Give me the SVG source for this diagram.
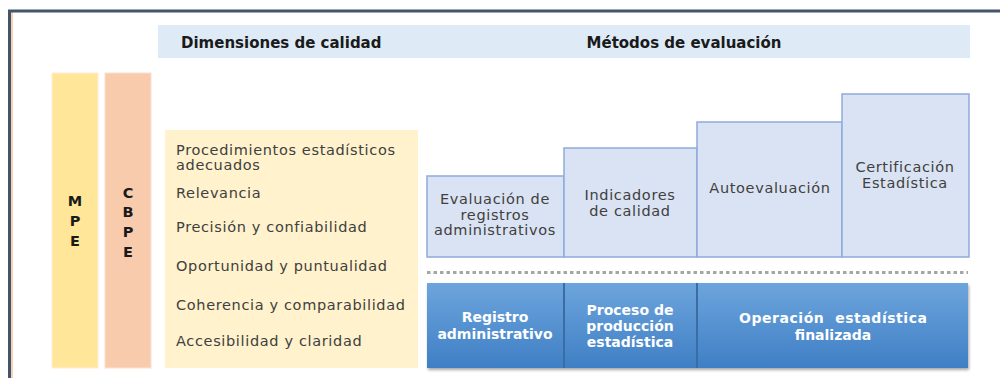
<svg xmlns="http://www.w3.org/2000/svg" width="1000" height="378" viewBox="0 0 1000 378">
<defs>
<style>
.t{font-family:"DejaVu Sans","Liberation Sans",sans-serif;font-size:14.5px;letter-spacing:0.65px;fill:#404040}
.c{text-anchor:middle}
.hb{font-family:"DejaVu Sans","Liberation Sans",sans-serif;font-size:15px;font-weight:bold;fill:#1a1a1a}
.lb{font-family:"DejaVu Sans","Liberation Sans",sans-serif;font-size:14.5px;font-weight:bold;fill:#1a1a1a;text-anchor:middle}
.wb{font-family:"DejaVu Sans","Liberation Sans",sans-serif;font-size:14px;font-weight:bold;fill:#ffffff;text-anchor:middle}
.step{fill:#DAE3F3;stroke:#8FAADC;stroke-width:1.5}
</style>
<linearGradient id="blue" x1="0" y1="0" x2="0" y2="1">
<stop offset="0" stop-color="#6DA5DD"/>
<stop offset="1" stop-color="#3F7FC5"/>
</linearGradient>
<filter id="sh" x="-5%" y="-10%" width="110%" height="125%">
<feDropShadow dx="1" dy="2" stdDeviation="1.5" flood-color="#000" flood-opacity="0.35"/>
</filter>
</defs>
<rect width="1000" height="378" fill="#ffffff"/>
<g id="frame">
<line x1="12" y1="12" x2="12" y2="378" stroke="#F4B183" stroke-width="1.2"/>
<line x1="8" y1="11" x2="1000" y2="11" stroke="#44546A" stroke-width="3"/>
<line x1="9.5" y1="10" x2="9.5" y2="378" stroke="#44546A" stroke-width="3"/>
</g>
<g id="header">
<rect x="158" y="25" width="812" height="33" fill="#DEEBF7"/>
<text class="hb" x="181" y="48">Dimensiones de calidad</text>
<text class="hb" x="684" y="48" text-anchor="middle">Métodos de evaluación</text>
</g>
<g id="mpe">
<rect x="52" y="73" width="46" height="295" fill="#FFE699" stroke="#FFEBD9" stroke-width="1"/>
<text class="lb" x="75" y="206">M</text>
<text class="lb" x="75" y="226">P</text>
<text class="lb" x="75" y="246">E</text>
</g>
<g id="cbpe">
<rect x="105" y="73" width="46" height="295" fill="#F8CBAD" stroke="#FBE0D0" stroke-width="1"/>
<text class="lb" x="128" y="198">C</text>
<text class="lb" x="128" y="217">B</text>
<text class="lb" x="128" y="237">P</text>
<text class="lb" x="128" y="257">E</text>
</g>
<g id="dimensiones">
<rect x="165" y="130" width="253" height="238" fill="#FFF2CC"/>
<text class="t" x="176" y="155">Procedimientos estadísticos</text>
<text class="t" x="176" y="170">adecuados</text>
<text class="t" x="176" y="198">Relevancia</text>
<text class="t" x="176" y="232">Precisión y confiabilidad</text>
<text class="t" x="176" y="271">Oportunidad y puntualidad</text>
<text class="t" x="176" y="310">Coherencia y comparabilidad</text>
<text class="t" x="176" y="346">Accesibilidad y claridad</text>
</g>
<g id="metodo1">
<rect class="step" x="427" y="176" width="137" height="81"/>
<text class="t c" x="495" y="204">Evaluación de</text>
<text class="t c" x="495" y="220">registros</text>
<text class="t c" x="495" y="235">administrativos</text>
</g>
<g id="metodo2">
<rect class="step" x="564" y="148" width="133" height="109"/>
<text class="t c" x="630" y="200">Indicadores</text>
<text class="t c" x="630" y="216">de calidad</text>
</g>
<g id="metodo3">
<rect class="step" x="697" y="122" width="145" height="135"/>
<text class="t c" x="770" y="193">Autoevaluación</text>
</g>
<g id="metodo4">
<rect class="step" x="842" y="94" width="127" height="163"/>
<text class="t c" x="905" y="172">Certificación</text>
<text class="t c" x="905" y="188">Estadística</text>
</g>
<g id="connectors">
<line x1="427" y1="272.5" x2="968" y2="272.5" stroke="#A6A6A6" stroke-width="3" stroke-dasharray="3.5 3"/>
</g>
<g id="procesos">
<rect x="427" y="283" width="541" height="85" fill="url(#blue)" filter="url(#sh)"/>
<line x1="564" y1="283" x2="564" y2="368" stroke="#3A6DA3" stroke-width="2"/>
<line x1="697" y1="283" x2="697" y2="368" stroke="#3A6DA3" stroke-width="2"/>
</g>
<g id="proceso1">
<text class="wb" x="495" y="322">Registro</text>
<text class="wb" x="495" y="339">administrativo</text>
</g>
<g id="proceso2">
<text class="wb" x="630" y="315">Proceso de</text>
<text class="wb" x="630" y="331">producción</text>
<text class="wb" x="630" y="347">estadística</text>
</g>
<g id="proceso3">
<text class="wb" x="833" y="323" textLength="188" lengthAdjust="spacing" xml:space="preserve">Operación  estadística</text>
<text class="wb" x="833" y="340">finalizada</text>
</g>
</svg>
